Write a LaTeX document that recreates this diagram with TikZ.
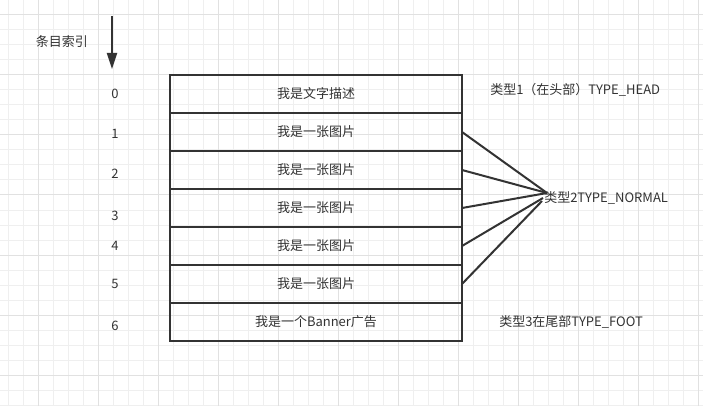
\documentclass[tikz,border=0pt]{standalone}
\usepackage{fontspec}
\setmainfont{Noto Sans CJK SC}
\usepackage{tikz}
\usetikzlibrary{positioning, arrows.meta}

\definecolor{ink}{HTML}{333333}
\definecolor{gridminor}{HTML}{EFEFEF}
\definecolor{gridmajor}{HTML}{E1E1E1}

\begin{document}
\begin{tikzpicture}[x=0.75pt, y=-0.75pt, node distance=0pt,
        font=\fontsize{9.75}{12}\selectfont, text=ink]
        % Styles
        \tikzstyle{rowbox} = [rectangle, draw=ink, line width=1.5pt, outer sep=0pt,
            minimum width=219pt, minimum height=28.5pt]
        \tikzstyle{idx} = [inner sep=0pt]
        \tikzstyle{typelabel} = [inner sep=0pt, anchor=west]
        \tikzstyle{line} = [draw=ink, line width=1.5pt]
        \tikzstyle{idxarrow} = [draw=ink, line width=1.5pt,
            -{Triangle[width=7.5pt, length=12pt]}]

        % Background grid
        \useasboundingbox (0,0) rectangle (703,406);
        \fill[white] (0,0) rectangle (703,406);
        \foreach \x in {8.3,23.3,...,703} \draw[gridminor, line width=0.75pt] (\x,0) -- (\x,406);
        \foreach \y in {0,15,...,406} \draw[gridminor, line width=0.75pt] (0,\y) -- (703,\y);
        \foreach \x in {38.3,98.3,...,703} \draw[gridmajor, line width=0.75pt] (\x,0) -- (\x,406);
        \foreach \y in {15,75,...,406} \draw[gridmajor, line width=0.75pt] (0,\y) -- (703,\y);

        % Nodes
        \node [rowbox] (r0) at (316,94) {我是文字描述};
        \node [rowbox, below=of r0] (r1) {我是一张图片};
        \node [rowbox, below=of r1] (r2) {我是一张图片};
        \node [rowbox, below=of r2] (r3) {我是一张图片};
        \node [rowbox, below=of r3] (r4) {我是一张图片};
        \node [rowbox, below=of r4] (r5) {我是一张图片};
        \node [rowbox, below=of r5] (r6) {我是一个Banner广告};

        \foreach \i/\y in {0/94, 1/134, 2/174, 3/216, 4/246, 5/284, 6/326}
            \node [idx] (i\i) at (115,\y) {\i};
        \node [idx] (title) at (62,42) {条目索引};

        \node [typelabel, right=21pt of r0, yshift=3pt] (t1) {类型1（在头部）TYPE\_HEAD};
        \node [typelabel, right=27.75pt of r6] (t3) {类型3在尾部TYPE\_FOOT};

        \coordinate (arrowtop) at (112,16);
        \coordinate (arrowtip) at (112,69);
        \coordinate (hub) at (547,193);
        \coordinate (hublow) at (543,198);
        \coordinate (hubend) at (542,201);

        % Connections
        \path [idxarrow] (arrowtop) -- (arrowtip);
        \path [line] (r1.east) -- (hub);
        \path [line] (r2.east) -- (hub);
        \path [line] (r3.east) -- (hub);
        \path [line] (r4.east) -- (hublow);
        \path [line] (r5.east) -- (hubend);

        \node [typelabel] (t2) at (544,198) {类型2TYPE\_NORMAL};
    \end{tikzpicture}
\end{document}
